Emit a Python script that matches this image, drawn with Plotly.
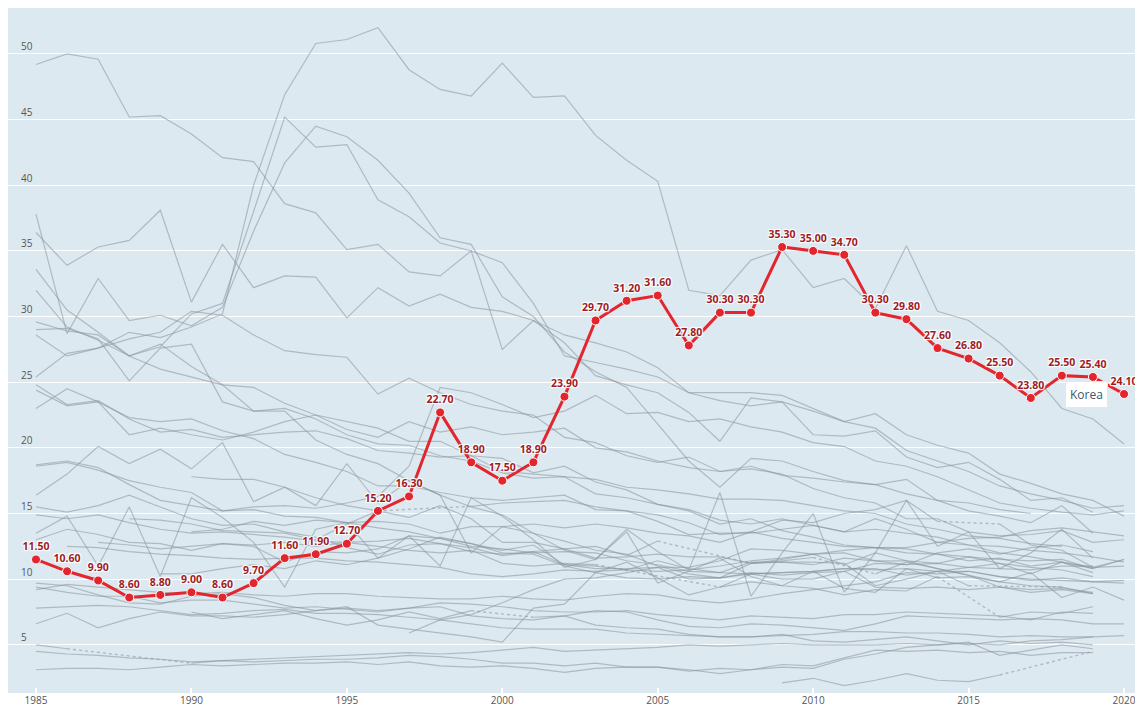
import plotly.graph_objects as go

N = None
years = list(range(1985, 2021))

korea = [11.5, 10.6, 9.9, 8.6, 8.8, 9.0, 8.6, 9.7, 11.6, 11.9,
         12.7, 15.2, 16.3, 22.7, 18.9, 17.5, 18.9, 23.9, 29.7, 31.2,
         31.6, 27.8, 30.3, 30.3, 35.3, 35.0, 34.7, 30.3, 29.8, 27.6,
         26.8, 25.5, 23.8, 25.5, 25.4, 24.1]

HUN = [49.2,50.0,49.6,45.2,45.3, 43.9,42.1,41.8,38.6,37.9, 35.1,35.5,33.4,33.1,35.0, 34.1,31.0,27.0,26.5,26.0, 25.4,24.2,23.6,23.2,23.5, 22.8,22.0,21.5,19.8,19.0, 18.2,17.1,16.5,16.0,15.4, 15.6]
LTU = [28.6,27.0,27.6,28.8,28.4, 29.2,30.2,40.0,46.9,50.8, 51.1,52.0,48.8,47.3,46.8, 49.3,46.7,46.8,43.8,41.9, 40.3,32.0,31.6,34.3,35.1, 32.2,32.9,30.6,35.4,30.4, 29.7,28.0,25.8,23.0,22.2, 20.3]
EST = [37.8,28.7,32.9,29.7,30.1, 29.3,30.7,36.5,41.7,44.5, 43.7,41.9,39.4,36.0,35.5, 31.5,30.0,27.3,25.8,24.6, 21.8,19.0,17.0,19.2,19.0, 18.2,17.5,17.2,17.6,16.0, 15.2,14.8,14.3,15.6,13.5, N]
LVA = [33.6,30.5,28.8,27.0,27.7, 30.2,31.0,38.0,45.2,42.9, 43.1,38.9,37.6,35.6,35.0, 27.5,29.7,28.0,25.5,24.8, 24.2,22.7,20.5,23.8,23.5, 21.0,20.9,21.3,19.3,18.5, 18.9,17.6,16.0,16.2,15.1, N]
SVN = [36.4,33.9,35.3,35.8,38.1, 31.1,35.5,32.2,33.1,33.0, 29.9,32.2,30.8,31.7,30.7, 30.4,29.7,28.6,28.0,27.3, 26.1,24.2,24.2,24.2,24.0, 23.0,22.0,22.6,21.0,20.2, 19.6,18.0,17.3,16.5,16.0, 14.8]
DNK = [32.0,29.2,28.2,27.0,27.9, 26.2,24.8,22.8,22.8,20.6, 19.5,18.8,17.5,16.4,15.5, 14.9,13.5,12.9,12.2,11.9, 11.0,10.4,10.1,10.4,10.0, 10.0,10.6,9.4,9.3,9.4, 9.2,9.4,9.2,9.3,9.0, N]
AUT = [29.6,28.9,28.6,27.0,26.0, 25.4,24.8,24.6,23.4,22.5, 22.0,21.5,20.5,20.5,19.4, 19.2,18.1,18.6,17.4,16.8, 15.7,15.3,14.5,14.2,14.6, 14.1,13.6,13.8,13.5,13.2, 12.6,12.5,12.2,12.0,11.7, 11.3]
CHE = [29.0,29.1,28.3,25.1,27.6, 27.9,23.5,22.8,23.0,22.2, 21.0,20.3,20.2,19.4,19.0, 18.1,17.7,17.8,16.5,16.2, 15.7,15.2,14.2,14.6,13.7, 13.2,12.6,12.4,12.3,11.9, 11.7,11.2,10.9,10.7,10.2, N]
FIN = [25.4,27.2,27.6,28.3,28.8, 30.4,30.1,28.6,27.4,27.1, 26.9,24.1,25.3,24.2,23.3, 22.8,22.5,20.8,20.4,19.4, 18.9,19.3,18.2,18.4,18.0, 16.9,16.2,15.8,14.6,14.6, 13.6,13.3,13.4,13.7,12.8, 13.0]
FRA = [24.8,23.3,23.6,22.2,21.2, 21.4,20.8,21.0,21.2,21.3, 20.7,19.8,19.6,19.3,19.4, 18.2,18.0,17.8,17.6,17.0, 16.8,16.5,16.1,16.1,16.0, 15.6,15.2,15.0,14.2,13.8, 13.3,13.1,12.7,12.5,N, N]
CZE = [24.4,23.2,23.5,21.0,21.5, 21.0,20.6,21.2,22.0,22.5, 21.4,20.8,22.0,21.2,21.6, 21.0,21.2,21.5,20.0,19.7, 19.0,18.5,18.2,18.6,17.9, 17.7,17.4,17.2,16.5,16.0, 15.8,15.3,15.0,N,N, N]
BEL = [23.0,24.5,23.5,22.3,22.0, 22.2,21.3,20.7,19.5,18.9, 18.2,17.1,17.1,16.6,16.2, 16.0,16.2,16.4,15.3,15.2, 14.4,13.4,13.5,13.5,13.8, 14.1,13.6,14.6,13.8,12.8, 12.6,12.0,11.7,11.3,10.9, 11.5]
JPN = [18.7,19.0,18.5,17.2,16.0, 15.6,15.2,15.5,15.6,15.4, 15.8,16.3,18.6,24.6,24.2, 23.3,22.3,22.8,24.0,22.6, 22.7,22.0,22.2,21.6,21.2, 20.4,20.1,19.0,18.6,17.8, 16.8,15.8,15.4,15.1,14.9, 15.2]
DEU = [18.6,18.9,18.3,17.5,17.0, 16.6,15.2,15.3,14.8,14.7, 14.3,13.9,13.6,13.1,12.5, 12.3,12.0,12.1,12.0,11.4, 11.1,10.6,10.5,10.4,10.5, 10.6,10.8,10.7,10.8,10.6, 10.6,10.2,9.9,10.1,9.8, 9.9]
LUX = [16.4,18.0,20.1,18.8,19.9, 18.4,20.4,15.9,17.0,15.6, 18.8,15.8,17.5,16.4,12.0, 14.0,13.5,12.2,11.5,13.6, 9.7,10.6,11.6,10.2,9.5, 10.6,9.3,9.0,10.8,10.1, 10.2,9.8,10.5,8.6,9.4, 8.4]
NOR = [15.5,15.1,15.6,16.4,15.5, 14.6,14.1,14.2,13.6,13.2, 12.4,11.9,12.6,12.7,12.4, 11.8,12.1,11.1,11.0,10.7, 11.4,10.8,10.5,11.3,11.3, 11.3,11.2,9.5,10.0,10.6, 10.9,11.2,10.4,11.3,10.8, 11.5]
SWE = [14.9,14.6,14.9,14.3,13.8, 13.5,13.6,13.4,13.2,12.9, 12.8,12.9,13.1,12.7,12.1, 11.9,12.1,12.3,11.6,11.7, 11.9,11.7,11.7,11.2,11.3, 11.1,11.6,11.4,11.1,11.2, 10.9,10.8,10.7,11.0,11.0, N]
ISL = [13.5,14.8,11.0,15.5,10.2, 16.2,14.7,12.8,9.4,13.8, 14.3,11.6,13.3,11.0,16.2, 14.8,13.0,10.9,11.5,13.8, 12.1,10.7,16.6,8.7,12.0, 15.0,9.0,12.0,16.0,12.5, 13.6,10.8,12.0,13.8,11.6, N]
CAN = [13.0,13.8,13.4,12.8,12.7, 12.2,12.7,12.6,12.8,12.5, 12.8,12.5,12.2,12.0,12.2, 11.2,11.0,11.2,11.1,N, N,N,9.4,10.4,10.5, 10.6,10.8,10.8,10.3,10.6, 9.5,N,N,9.4,N, N]
USA = [N,12.5,12.4,12.1,11.9, 11.8,11.6,11.5,11.6,11.6, 11.4,11.3,11.1,10.9,10.4, 10.2,10.4,10.7,10.6,10.7, 10.6,10.7,11.0,11.4,11.6, 11.9,12.2,12.4,12.4,12.8, 13.1,13.2,13.7,13.9,13.6, 13.3]
AUS = [N,N,12.8,12.6,12.3, 12.5,12.7,12.5,11.3,12.1, 12.0,12.3,13.3,13.1,12.7, 12.0,11.9,11.0,10.5,10.1, 10.0,10.2,10.1,10.5,10.3, 10.5,10.6,11.2,11.1,12.0, 12.3,11.9,12.4,12.6,12.1, N]
NZL = [N,N,N,14.6,14.5, 14.2,13.7,13.6,13.5,13.0, 14.2,15.2,14.7,15.6,14.6, 12.8,12.8,12.3,12.5,11.8, 12.9,N,N,11.2,11.5, 11.9,11.1,12.0,11.4,11.2, 11.7,11.5,11.4,11.5,10.8, N]
IRL = [N,N,N,N,10.4, 10.4,10.8,11.1,10.8,11.4, 11.1,11.6,12.3,13.2,12.7, 12.2,12.6,11.1,10.8,10.8, 10.9,10.0,10.1,11.2,11.4, 11.65,N,10.4,11.3,10.8, 10.3,9.4,9.0,9.2,8.9, N]
POL = [N,N,N,N,N, 13.6,13.8,14.4,14.1,14.5, 14.3,14.4,14.2,13.5,14.0, 14.0,14.2,13.9,14.2,13.9, 13.5,13.3,12.8,13.6,14.5, 14.3,15.0,15.3,16.0,14.4, N,14.2,12.6,12.2,10.9, 11.0]
SVK = [N,N,N,N,N, 17.8,17.6,17.6,17.0,16.2, 15.6,15.2,N,N,15.55, 15.8,15.9,16.0,15.5,15.2, 14.9,14.3,13.4,13.6,13.1, 12.8,12.5,12.4,12.0,11.9, 11.4,11.6,11.0,11.3,10.5, N]
PRT = [9.7,9.5,8.8,8.2,8.1, 8.7,8.9,8.6,8.0,7.6, 7.9,6.5,6.2,5.9,5.6, 5.2,7.8,8.1,10.5,11.3, 10.1,8.8,9.4,9.8,9.5, 9.3,8.8,9.2,9.1,10.2, N,7.1,7.5,7.4,7.9, N]
GBR = [9.4,9.0,8.7,8.7,8.2, 8.4,8.4,8.1,7.8,7.9, 7.7,7.5,7.8,8.2,8.1, 7.9,7.6,7.5,7.5,7.6, 7.3,7.1,6.9,7.2,7.1, 7.0,7.3,7.3,7.5,7.4, 7.3,7.2,6.9,7.5,7.4, N]
NLD = [9.2,9.6,9.4,9.2,9.0, 8.9,9.0,8.8,8.7,8.9, 8.9,8.7,8.6,8.5,8.5, 8.7,8.5,8.4,8.7,8.9, 8.8,8.4,8.2,8.5,8.9, 9.2,9.5,9.8,10.5,10.4, 10.6,10.2,10.0,9.9,9.8, 9.7]
ITA = [7.8,7.9,8.0,7.9,7.6, 7.3,7.4,7.6,7.7,7.4, 7.4,7.3,7.1,6.9,6.6, 6.3,6.2,6.2,6.2,5.9, 5.8,5.7,5.6,5.6,5.7, 5.8,6.0,6.0,5.9,5.9, 5.8,5.6,5.7,5.6,5.6, N]
ESP = [6.6,7.4,6.3,7.0,7.5, 7.2,7.2,7.1,7.3,7.6, 7.8,7.6,7.8,7.9,7.2, 7.0,6.9,7.2,7.6,7.5, 6.9,6.4,6.3,6.6,6.5, 6.3,6.1,6.6,7.2,7.1, 7.0,6.9,7.0,6.9,6.6, 6.6]
ISR = [N,N,N,N,N, 7.5,7.0,7.3,7.6,7.0, 6.5,6.9,7.5,7.0,7.6, N,7.1,7.2,6.5,6.3, 6.2,5.8,5.6,5.6,5.8, 5.3,5.2,5.4,5.6,5.3, 5.0,5.3,5.1,5.2,5.0, N]
CHL = [N,N,N,N,N, N,N,N,N,N, N,N,5.9,6.9,7.3, 8.2,9.2,10.0,10.1,10.5, 10.9,10.9,11.4,12.3,12.2, 11.9,12.0,11.4,11.4,10.8, 10.3,9.8,9.5,9.4,8.9, N]
GRC = [5.0,4.7,N,N,N, 3.6,3.8,3.7,3.8,3.9, 3.9,4.0,4.2,4.1,3.9, 3.6,3.6,3.4,3.6,3.3, 3.3,3.0,3.2,3.1,3.5, 3.4,4.0,4.6,4.5,4.6, 4.4,4.5,4.2,4.4,4.4, N]
COL = [4.5,4.3,4.2,4.0,3.9, 3.7,3.8,3.9,4.0,4.1, 4.2,4.3,4.4,4.3,4.4, 4.6,4.8,4.5,4.6,4.7, 4.8,5.0,4.9,5.0,5.1, 5.0,5.0,5.0,5.1,5.0, 5.2,4.2,4.6,5.0,4.7, N]
MEX = [3.1,3.2,3.2,3.1,3.3, 3.5,3.4,3.5,3.6,3.6, 3.7,3.5,3.7,3.4,3.3, 3.4,3.2,2.9,3.2,3.3, 3.3,3.1,2.8,3.1,3.3, 3.2,3.9,4.3,4.8,5.0, 5.1,5.0,5.3,5.4,5.6, 5.7]
TUR = [N,N,N,N,N, N,N,N,N,N, N,N,N,N,N, N,N,N,N,N, N,N,N,N,2.1, 2.45,1.9,2.3,2.8,2.3, 2.2,2.7,N,N,4.5, N]

gray_series = [HUN, LTU, EST, LVA, SVN, DNK, AUT, CHE, FIN, FRA, CZE, BEL, JPN, DEU,
               LUX, NOR, SWE, ISL, CAN, USA, AUS, NZL, IRL, POL, SVK, PRT, GBR, NLD,
               ITA, ESP, ISR, CHL, GRC, COL, MEX, TUR]

for s in gray_series:
    assert len(s) == len(years), len(s)

GRAY = "rgba(135,148,156,0.55)"
fig = go.Figure()

for s in gray_series:
    fig.add_trace(go.Scatter(x=years, y=s, mode="lines", connectgaps=False,
                             line=dict(color=GRAY, width=1.2), hoverinfo="skip",
                             showlegend=False))
    # dotted connectors across missing years
    last = None
    for i, v in enumerate(s):
        if v is None:
            continue
        if last is not None and i - last > 1:
            fig.add_trace(go.Scatter(x=[years[last], years[i]], y=[s[last], v],
                                     mode="lines", line=dict(color=GRAY, width=1.4, dash="dot"),
                                     hoverinfo="skip", showlegend=False))
        last = i

fig.add_trace(go.Scatter(
    x=years, y=korea, mode="lines+markers+text", name="Korea",
    line=dict(color="#e3262e", width=3),
    marker=dict(size=9, color="#e3262e", line=dict(color="white", width=1)),
    texttemplate="%{y:.2f}", textposition="top center",
    textfont=dict(family="Open Sans, Arial, sans-serif", size=10.5, color="#9e1b1f",
                  weight=700,
                  shadow="1px 1px 1px #fff, -1px -1px 1px #fff, 1px -1px 1px #fff, -1px 1px 1px #fff"),
    showlegend=False))

fig.add_annotation(x=years[-1], y=korea[-1], text="Korea", showarrow=False,
                   xanchor="right", yanchor="middle", xshift=-16, yshift=0,
                   bgcolor="white", bordercolor="#e4e8ea", borderwidth=1, borderpad=4,
                   font=dict(family="Open Sans, Arial, sans-serif", size=12, color="#3f5766"))

fig.update_layout(
    width=1135, height=705,
    margin=dict(l=0, r=0, t=0, b=20),
    paper_bgcolor="white", plot_bgcolor="#dde9f1",
    font=dict(family="Open Sans, Arial, sans-serif", size=10, color="#555"),
    xaxis=dict(range=[1984.1, 2020.61], tickvals=[1985, 1990, 1995, 2000, 2005, 2010, 2015, 2020],
               showgrid=False, zeroline=False, ticks="inside", ticklen=5, tickcolor="white",
               tickwidth=2, tickfont=dict(size=10, color="#555"), showline=False),
    yaxis=dict(range=[1.33, 53.5], tickvals=[5, 10, 15, 20, 25, 30, 35, 40, 45, 50],
               showgrid=True, gridcolor="white", gridwidth=1.3, zeroline=False,
               ticklabelposition="inside top", ticklabelstandoff=10,
               tickfont=dict(size=10, color="#555"), showline=False),
)

fig.write_html("out.html")
